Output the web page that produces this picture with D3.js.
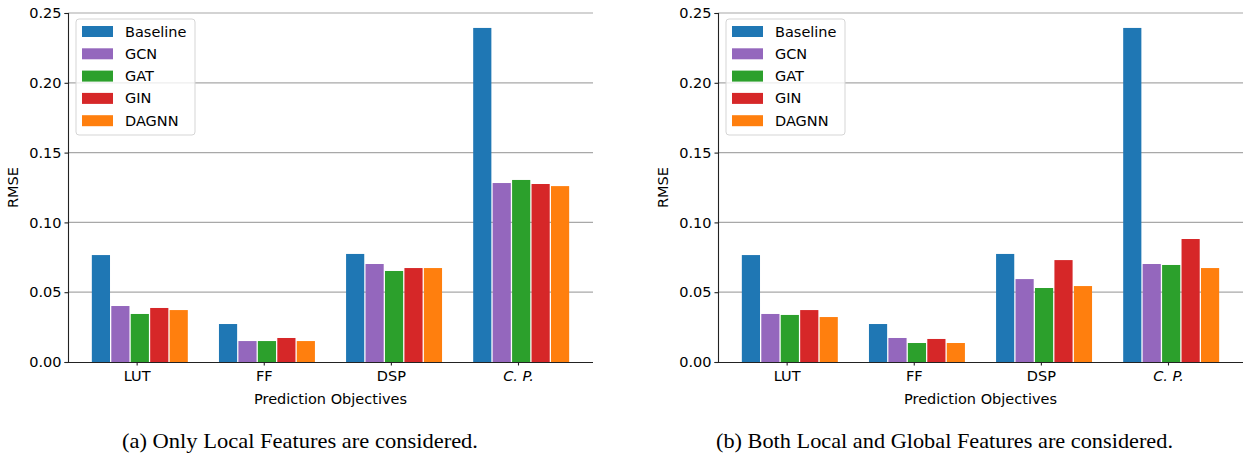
<!DOCTYPE html>
<meta charset="utf-8">
<html>
<style>
  body { margin: 0; background: #fff; }
  text { font-family: "DejaVu Sans", sans-serif; fill: #000; }
</style>
<body>
<div id="chartContainer"></div>
<script src="https://cdn.jsdelivr.net/npm/d3@7"></script>
<script>
// categories and series names
var categories = ["LUT", "FF", "DSP", "C.P."];
var models = ["Baseline", "GCN", "GAT", "GIN", "DAGNN"];
var colors = ["#1f77b4", "#9467bd", "#2ca02c", "#d62728", "#ff7f0e"];
var yTicks = [0, 0.05, 0.10, 0.15, 0.20, 0.25];

// (a) only local features
var localBaseline = [0.0766, 0.0272, 0.0774, 0.2393];
var localGCN      = [0.0401, 0.0150, 0.0702, 0.1282];
var localGAT      = [0.0344, 0.0150, 0.0652, 0.1304];
var localGIN      = [0.0387, 0.0172, 0.0673, 0.1275];
var localDAGNN    = [0.0372, 0.0150, 0.0673, 0.1260];

// (b) local and global features
var globalBaseline = [0.0766, 0.0272, 0.0774, 0.2393];
var globalGCN      = [0.0344, 0.0172, 0.0594, 0.0702];
var globalGAT      = [0.0337, 0.0136, 0.0530, 0.0695];
var globalGIN      = [0.0372, 0.0165, 0.0730, 0.0881];
var globalDAGNN    = [0.0322, 0.0136, 0.0544, 0.0673];

var svg = d3.select("#chartContainer").append("svg")
  .attr("width", 1247).attr("height", 459);

function drawPanel(left, series, caption) {
  var w = 525, top = 13, bottom = 362;
  var g = svg.append("g").attr("transform", "translate(" + left + ",0)");

  var x = d3.scaleLinear().domain([-0.565, 3.565]).range([0, w]);
  var y = d3.scaleLinear().domain([0, 0.25]).range([bottom, top]);
  var step = 0.153, bw = 0.143;

  // grid
  g.selectAll("line.grid").data(yTicks.slice(1)).enter().append("line")
    .attr("x1", 0).attr("x2", w)
    .attr("y1", function (d) { return y(d); }).attr("y2", function (d) { return y(d); })
    .style("stroke", "#a8a8a8").style("stroke-width", 1.2);

  // bars
  series.forEach(function (vals, k) {
    g.selectAll("rect.s" + k).data(vals).enter().append("rect")
      .attr("x", function (d, i) { return x(i + (k - 2) * step - bw / 2); })
      .attr("width", x(bw) - x(0))
      .attr("y", function (d) { return y(d); })
      .attr("height", function (d) { return y(0) - y(d); })
      .style("fill", colors[k]);
  });

  // y axis
  var yAxis = g.append("g").call(d3.axisLeft(y).tickValues(yTicks).tickFormat(d3.format(".2f")).tickSizeOuter(0).tickSize(3.5).tickPadding(3));
  yAxis.select(".domain").style("stroke", "#222").style("stroke-width", 1.1);
  yAxis.selectAll(".tick line").style("stroke", "#222").style("stroke-width", 1.1);
  yAxis.selectAll("text").style("font-size", "14.5px").style("font-family", "DejaVu Sans");

  // x axis
  var xAxis = g.append("g").attr("transform", "translate(0," + bottom + ")")
    .call(d3.axisBottom(x).tickValues([0, 1, 2, 3].map(function (i) { return i - 0.025; }))
      .tickFormat(function (d, i) { return categories[i]; }).tickSizeOuter(0).tickSize(3.5).tickPadding(5));
  xAxis.select(".domain").style("stroke", "#222").style("stroke-width", 1.1)
    .attr("d", "M0,0.5H" + w);
  xAxis.selectAll(".tick line").style("stroke", "#222").style("stroke-width", 1.1);
  xAxis.selectAll("text").style("font-size", "14.5px").style("font-family", "DejaVu Sans")
    .style("font-style", function (d, i) { return i === 3 ? "italic" : "normal"; })
    .text(function (d, i) { return i === 3 ? "C. P." : categories[i]; });

  g.append("text").attr("x", w / 2).attr("y", 404).attr("text-anchor", "middle")
    .style("font-size", "14.5px").text("Prediction Objectives");
  g.append("text").attr("transform", "translate(-50," + ((top + bottom) / 2) + ") rotate(-90)")
    .attr("text-anchor", "middle").style("font-size", "14.5px").text("RMSE");

  // legend
  var lg = g.append("g").attr("transform", "translate(8,19)");
  lg.append("rect").attr("width", 119).attr("height", 116).attr("rx", 3)
    .style("fill", "#fff").style("fill-opacity", 0.8).style("stroke", "#d5d5d5").style("stroke-width", 1);
  models.forEach(function (m, k) {
    lg.append("rect").attr("x", 6).attr("y", 7 + k * 22.3).attr("width", 31).attr("height", 11)
      .style("fill", colors[k]);
    lg.append("text").attr("x", 49).attr("y", 12.5 + k * 22.3).attr("dy", "0.35em")
      .style("font-size", "14.5px").text(m);
  });

  svg.append("text").attr("x", left + caption.x0).attr("y", 448)
    .attr("textLength", caption.len).attr("lengthAdjust", "spacingAndGlyphs")
    .style("font-family", "Liberation Serif, Times New Roman, serif").style("font-size", "21px")
    .text(caption.text);
}

drawPanel(68, [localBaseline, localGCN, localGAT, localGIN, localDAGNN],
  { text: "(a) Only Local Features are considered.", x0: 54, len: 356 });
drawPanel(718, [globalBaseline, globalGCN, globalGAT, globalGIN, globalDAGNN],
  { text: "(b) Both Local and Global Features are considered.", x0: -2, len: 457 });
</script>
</body>
</html>
